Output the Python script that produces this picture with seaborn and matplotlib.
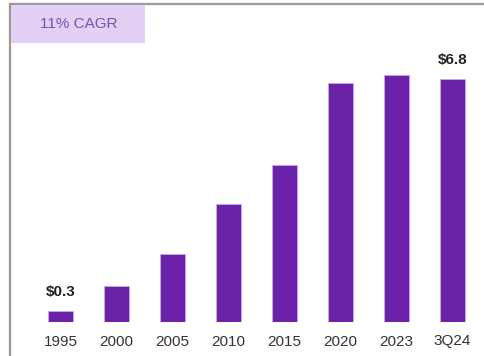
import matplotlib
matplotlib.use("Agg")
import matplotlib.pyplot as plt
from matplotlib.lines import Line2D
from matplotlib.patches import Rectangle
import seaborn as sns
import pandas as pd

# Market size by period ($)
periods = ["1995", "2000", "2005", "2010", "2015", "2020", "2023", "3Q24"]
values = [0.3, 1.0, 1.9, 3.3, 4.4, 6.7, 6.9, 6.8]
value_labels = ["$0.3", "", "", "", "", "", "", "$6.8"]
badge_text = "11% CAGR"

sns.set_theme(style="white")
plt.rcParams["font.family"] = ["Liberation Sans Narrow", "Liberation Sans", "DejaVu Sans"]

W, H = 484, 356
fig = plt.figure(figsize=(W / 100, H / 100), dpi=100)
ax = fig.add_axes([10 / W, (H - 322) / H, 474 / W, 318 / H])

df = pd.DataFrame({"period": periods, "value": values})
sns.barplot(data=df, x="period", y="value", color="#6A22A8", saturation=1,
            width=0.44, ax=ax, edgecolor="#c9a6f0", linewidth=0.6)

ax.set_xlim(-0.902, 7.563)
ax.set_ylim(0, 8.9)
ax.set_xlabel("")
ax.set_ylabel("")
ax.set_yticks([])
ax.tick_params(axis="x", length=0, pad=9, labelsize=11, colors="#333333")

for side in ["right", "bottom"]:
    ax.spines[side].set_visible(False)
for side in ["left", "top"]:
    ax.spines[side].set_visible(True)
    ax.spines[side].set_color("#9a9a9a")
    ax.spines[side].set_linewidth(1.6)

ax.bar_label(ax.containers[0], labels=value_labels, padding=9,
             fontsize=11, fontweight="bold", color="#222222")

# extend the left frame line down to the bottom edge
fig.add_artist(Line2D([10 / W, 10 / W], [0, (H - 322) / H], color="#9a9a9a",
                      linewidth=1.6, transform=fig.transFigure))

# CAGR badge in the top-left corner
fig.add_artist(Rectangle((11 / W, (H - 43) / H), 134 / W, 38 / H,
                         facecolor="#E3D1F5", edgecolor="none",
                         transform=fig.transFigure))
fig.text(79 / W, (H - 24) / H, badge_text, ha="center", va="center",
         fontsize=11, color="#7A4FAE")

fig.savefig("out.png", dpi=100)
